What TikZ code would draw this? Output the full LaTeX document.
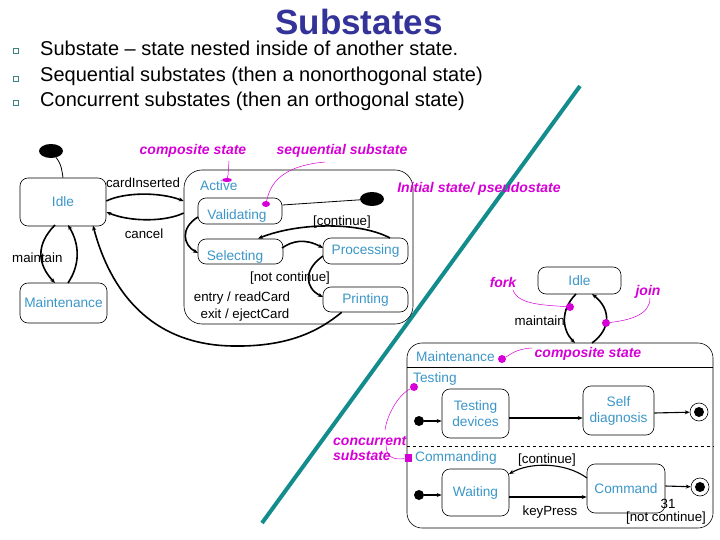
\documentclass[tikz,border=0pt]{standalone}
\usepackage{fontspec}
\setmainfont{Liberation Sans}
\usetikzlibrary{arrows.meta,shapes.geometric}
\definecolor{stblue}{RGB}{58,150,200}
\definecolor{mag}{RGB}{214,0,214}
\definecolor{tealln}{RGB}{18,140,140}
\definecolor{ttl}{RGB}{51,51,153}
\definecolor{bul}{RGB}{60,130,130}
\tikzset{
  stf/.style={text=stblue, font=\fontsize{13.7}{15}\selectfont, inner sep=0pt},
  st/.style={draw, rounded corners=8pt, line width=0.6pt, stf},
  lbl/.style={font=\fontsize{13.3}{14}\selectfont, inner sep=0pt},
  ann/.style={text=mag, font=\fontsize{14}{15}\selectfont\bfseries\itshape, inner sep=0pt},
  annln/.style={draw=mag, line width=0.5pt},
  tr/.style={line width=1.6pt, -{Stealth[length=5pt,width=4pt]}},
  trr/.style={line width=1.1pt, -{Stealth[length=5pt,width=4pt]}},
  initst/.style={fill=black, circle, inner sep=0pt, minimum size=10pt},
  bigtxt/.style={font=\fontsize{20}{22}\selectfont, inner sep=0pt, anchor=west},
  bullet/.style={draw=bul, line width=0.8pt, fill=white, inner sep=0pt, minimum size=5pt}
}
\begin{document}
\begin{tikzpicture}[x=1pt,y=-1pt]
\useasboundingbox (0,0) rectangle (720,540);
% title and bullets
\node[text=ttl, font=\fontsize{35}{38}\selectfont\bfseries, inner sep=0pt] (title) at (359,22) {Substates};
\node[bullet] (b1) at (16,51) {};
\node[bullet] (b2) at (16,79) {};
\node[bullet] (b3) at (16,103) {};
\node[bigtxt] (t1) at (40,48) {Substate -- state nested inside of another state.};
\node[bigtxt] (t2) at (40,76) {Sequential substates (then a nonorthogonal state)};
\node[bigtxt] (t3) at (40,101) {Concurrent substates (then an orthogonal state)};

% teal divider
\coordinate (d1) at (580,86);
\coordinate (d2) at (262,523);
\draw[tealln, line width=4pt] (d1) -- (d2);

% ===== left diagram =====
\node[fill=black, ellipse, minimum width=24pt, minimum height=14pt, inner sep=0pt] (init1) at (51,151) {};
\node[st, minimum width=86pt, minimum height=48pt] (idle) at (63,202) {Idle};
\node[st, minimum width=87pt, minimum height=40pt] (maint) at (63.5,303) {Maintenance};
\node[draw, rounded corners=18pt, line width=0.6pt, minimum width=229pt, minimum height=154pt, inner sep=0pt] (active) at (298.5,247) {};
\node[stf, anchor=west] (activet) at (200,186) {Active};
\node[st, minimum width=84pt, minimum height=26pt] (valid) at (240,211) {};
\node[stf] (validt) at (237,216) {Validating};
\node[st, minimum width=85pt, minimum height=25pt] (select) at (240.5,251.5) {};
\node[stf] (selectt) at (235,257) {Selecting};
\node[st, minimum width=85pt, minimum height=26pt] (proc) at (365.5,251) {Processing};
\node[st, minimum width=85pt, minimum height=25pt] (print) at (365.5,299.5) {Printing};
\node[fill=black, ellipse, minimum width=24pt, minimum height=14pt, inner sep=0pt] (init2) at (372,199) {};
\node[lbl] (entry) at (242,298) {entry / readCard};
\node[lbl] (exit) at (245,315) {exit / ejectCard};

\draw[line width=0.8pt] (init1) .. controls (62,165) and (62,172) .. (idle.north);
\draw[tr] (idle.east |- 0,201) .. controls (125,192) and (160,192) .. (active.west |- 0,201);
\node[lbl] (cardl) at (143,183) {cardInserted};
\draw[tr] (active.west |- 0,213) .. controls (165,222) and (130,222) .. (idle.east |- 0,212);
\node[lbl] (cancell) at (144,234) {cancel};
\draw[tr] (55,225) .. controls (35,245) and (38,265) .. (55,283);
\draw[tr] (68,283) .. controls (80,265) and (80,245) .. (68,225);
\node[lbl, anchor=west] (maintl) at (12,258) {maintain};
\draw[tr] (print.south west) ++(19,0) .. controls (320,330) and (290,347) .. (233,346) .. controls (150,345) and (110,290) .. (93,225.5);
\draw[line width=0.8pt] (init2) -- (valid.east |- 0,205);
\draw[tr] (198,217) .. controls (180,228) and (183,245) .. (198,253);
\draw[tr] (282,248) .. controls (292,241) and (305,238) .. (323,248);
\draw[tr] (323,256) .. controls (303,270) and (305,288) .. (323,297);
\draw[tr] (390,238) .. controls (360,222) and (300,222) .. (258,238.5);
\node[lbl] (contl) at (342,222) {[continue]};
\node[lbl] (ncontl) at (290,278) {[not continue]};

% annotations left
\node[ann] (a1) at (193,151) {composite state};
\node[fill=mag, ellipse, minimum width=10pt, minimum height=4pt, inner sep=0pt] (m1) at (227,180) {};
\draw[annln] (229,161) -- (228,175) -- (m1);
\node[ann] (a2) at (342,151) {sequential substate};
\node[fill=mag, ellipse, minimum width=8pt, minimum height=6pt, inner sep=0pt] (m2) at (266,204) {};
\draw[annln] (325,162) .. controls (280,166) and (270,185) .. (m2);
\node[ann] (a3) at (479,189) {Initial state/ pseudostate};

% ===== right diagram =====
\node[st, minimum width=83pt, minimum height=27pt] (idle2) at (579.5,280.5) {Idle};
\node[draw, rounded corners=15pt, line width=0.6pt, minimum width=306pt, minimum height=185pt, inner sep=0pt] (maint2) at (560,435.5) {};
\draw[line width=0.6pt] (maint2.west |- 0,367) -- (maint2.east |- 0,367);
\draw[line width=0.6pt, dashed] (maint2.west |- 0,446) -- (maint2.east |- 0,446);
\node[stf, anchor=west] (maint2t) at (416,357) {Maintenance};
\node[stf, anchor=west] (testt) at (413,379) {Testing};
\node[stf, anchor=west] (commt) at (415,458) {Commanding};

\draw[tr] (576,294) .. controls (560,310) and (562,330) .. (575,343);
\draw[tr] (592,343) .. controls (610,330) and (612,310) .. (592,294);
\node[lbl, anchor=east] (maintl2) at (565,321) {maintain};

\node[st, minimum width=67pt, minimum height=49pt, align=center, font=\fontsize{13.7}{16}\selectfont] (testdev) at (475.5,413.5) {Testing\\devices};
\node[st, minimum width=71pt, minimum height=49pt, align=center, font=\fontsize{13.7}{16}\selectfont] (selfd) at (618.5,410.5) {Self\\diagnosis};
\node[st, minimum width=67pt, minimum height=47pt] (wait) at (475.5,492.5) {Waiting};
\node[st, minimum width=78pt, minimum height=49pt] (cmd) at (626,488.5) {Command};
\node[initst] (init3) at (419,421) {};
\node[initst] (init4) at (419,495) {};
\node[draw, circle, line width=0.6pt, minimum size=18pt, inner sep=0pt] (fin1) at (699,412) {};
\node[fill=black, circle, minimum size=10pt, inner sep=0pt] (fin1i) at (699,412) {};
\node[draw, circle, line width=0.6pt, minimum size=18pt, inner sep=0pt] (fin2) at (700,487) {};
\node[fill=black, circle, minimum size=10pt, inner sep=0pt] (fin2i) at (700,487) {};

\draw[trr] (init3) -- (testdev.west |- init3);
\draw[trr] (testdev.east |- 0,418) -- (selfd.west |- 0,418);
\draw[trr] (selfd.east |- 0,413) -- (fin1);
\draw[trr] (init4) -- (wait.west |- init4);
\draw[trr] (wait.east |- 0,497) -- (cmd.west |- 0,497);
\node[lbl] (keyl) at (550,512) {keyPress};
\draw[trr] (587,478) .. controls (565,462) and (530,462) .. (509,474);
\node[lbl] (cont2) at (547,460) {[continue]};
\draw[trr] (cmd.east |- 0,486) -- (fin2);
\node[lbl] (n31) at (668,504) {31};
\node[lbl] (ncont2) at (666,518) {[not continue]};

% annotations right
\node[ann] (fork) at (503,282) {fork};
\node[fill=mag, circle, minimum size=8pt, inner sep=0pt] (mf) at (570,307) {};
\draw[annln] (513,290) .. controls (518,305) and (545,305) .. (mf);
\node[ann] (join) at (648,292) {join};
\node[fill=mag, circle, minimum size=8pt, inner sep=0pt] (mj) at (606,323) {};
\draw[annln] (650,298) .. controls (650,315) and (630,320) .. (mj);
\node[ann] (a4) at (588,354) {composite state};
\node[fill=mag, circle, minimum size=8pt, inner sep=0pt] (mc) at (502,359) {};
\draw[annln] (532,348) .. controls (515,349) and (510,355) .. (mc);
\node[fill=mag, circle, minimum size=8pt, inner sep=0pt] (mt) at (414,387) {};
\node[fill=mag, minimum width=7pt, minimum height=8pt, inner sep=0pt] (mcmd) at (408,458) {};
\node[ann, align=left, anchor=west, font=\fontsize{14}{15}\selectfont\bfseries\itshape] (conc) at (333,448) {concurrent\\substate};
\draw[annln] (mt) .. controls (398,395) and (387,415) .. (385,430);
\draw[annln] (mcmd) .. controls (395,460) and (386,458) .. (386,445);
\end{tikzpicture}
\end{document}
